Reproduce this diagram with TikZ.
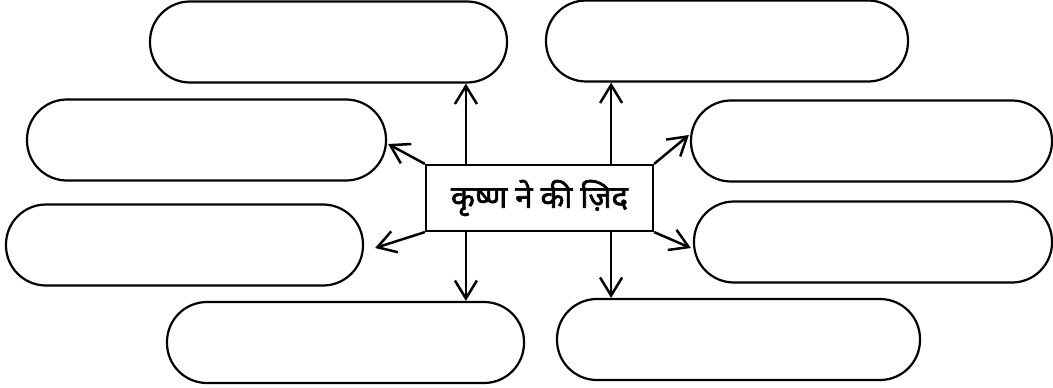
\documentclass[tikz,border=0pt]{standalone}
\usepackage{fontspec}
\newfontfamily\devfont[Script=Devanagari,FakeBold=2]{Noto Sans}
\usetikzlibrary{arrows.meta,calc}
\begin{document}
\begin{tikzpicture}[x=1pt,y=-1pt,
  pill/.style={draw,line width=2.2pt,rounded corners=40pt,minimum height=81pt,inner sep=0pt},
  centerbox/.style={draw,line width=2.2pt,minimum width=227pt,minimum height=66pt,inner sep=0pt,font=\devfont\fontsize{31}{36}\selectfont},
  arr/.style={line width=2.5pt,-{Straight Barb[length=18pt,width=22pt]}}]
\useasboundingbox (0,0) rectangle (1053,388);
\node[pill,minimum width=357pt] (tl) at (328.5,42) {};
\node[pill,minimum width=359pt] (l1) at (206.5,140) {};
\node[pill,minimum width=357pt] (l2) at (184.5,245) {};
\node[pill,minimum width=357pt] (bl) at (345.5,342.5) {};
\node[pill,minimum width=362pt] (tr) at (727,41) {};
\node[pill,minimum width=361pt] (r1) at (871.5,141) {};
\node[pill,minimum width=358pt] (r2) at (873,242) {};
\node[pill,minimum width=363pt] (br) at (738.5,339.5) {};
\node[centerbox] (c) at (539.5,198) {कृष्ण ने की ज़िद};
\coordinate (nw) at ($(c.north west)+(41,0)$);
\coordinate (sw) at ($(c.south west)+(41,0)$);
\coordinate (ne) at ($(c.north east)+(-43,0)$);
\coordinate (se) at ($(c.south east)+(-43,0)$);
% vertical arrows
\draw[arr] (nw) -- (nw |- tl.south);
\draw[arr] (sw) -- (sw |- bl.north);
\draw[arr] (ne) -- (ne |- tr.south);
\draw[arr] (se) -- (se |- br.north);
% diagonal arrows
\draw[arr] (c.north west) -- ($(l1.east)+(1,4)$);
\draw[arr] (c.south west) -- ($(l2.east)+(11,3)$);
\draw[arr] (c.north east) -- ($(r1.west)+(-1,-6)$);
\draw[arr] (c.south east) -- ($(r2.west)+(-2,6)$);
\end{tikzpicture}
\end{document}
